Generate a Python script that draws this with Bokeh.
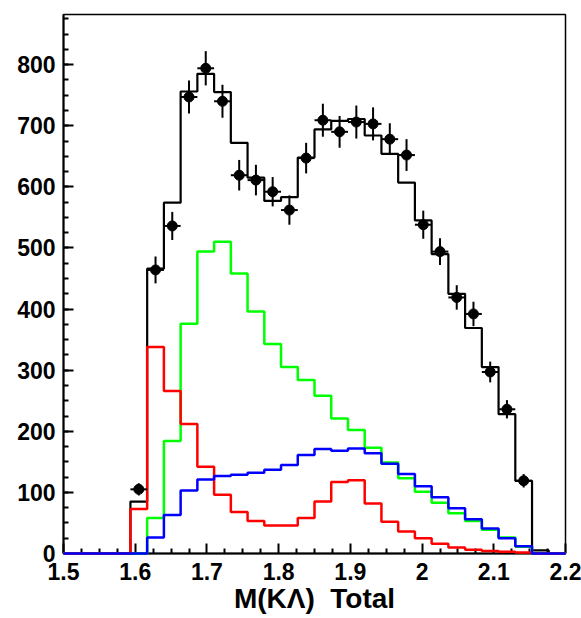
import numpy as np
from bokeh.plotting import figure
from bokeh.models import Range1d, FixedTicker, SingleIntervalTicker, ColumnDataSource
from bokeh.embed import file_html
from bokeh.resources import INLINE

# ---- data (30 bins between 1.5 and 2.2) ----
bin_low = 1.5
bin_high = 2.2
n_bins = 30

total_fit = [0, 0, 0, 0, 85, 466, 574, 756, 785, 755, 672, 615, 577, 583, 648,
             694, 708, 711, 684, 654, 607, 545, 490, 425, 369, 305, 228, 119, 5, 0]
green_comp = [0, 0, 0, 0, 0, 58, 184, 376, 494, 510, 458, 396, 343, 305, 284,
              258, 221, 202, 173, 149, 123, 101, 83, 66, 53, 39, 26, 11, 0, 0]
red_comp = [0, 0, 0, 0, 73, 338, 266, 212, 142, 96, 68, 53, 46, 46, 58,
            85, 117, 120, 82, 52, 36, 25, 16, 10, 6, 4, 3, 1.5, 0, 0]
blue_comp = [0, 0, 0, 0, 0, 26, 63, 103, 121, 127, 129, 132, 137, 145, 161,
             171, 168, 172, 164, 147, 130, 110, 92, 74, 56, 41, 25, 12, 0, 0]

data_counts = [0, 0, 0, 0, 105, 464, 536, 747, 794, 740, 619, 611, 592, 562, 647,
               709, 690, 706, 703, 678, 652, 538, 494, 419, 392, 297, 236, 119, 0, 0]
data_errors = [0, 0, 0, 0, 10, 22, 23, 27, 28, 27, 25, 25, 24, 24, 25,
               27, 26, 27, 27, 26, 26, 23, 22, 20, 20, 17, 15, 11, 0, 0]

x_tick_values = [1.5, 1.6, 1.7, 1.8, 1.9, 2.0, 2.1, 2.2]
x_tick_labels = ["1.5", "1.6", "1.7", "1.8", "1.9", "2", "2.1", "2.2"]
y_tick_interval = 100
x_title = "M(K\u039b)\u00a0\u00a0Total"

# ---- figure ----
FONT = "Liberation Sans"
p = figure(width=581, height=618, x_range=Range1d(bin_low, bin_high), y_range=Range1d(0, 882),
           output_backend="svg", toolbar_location=None,
           min_border_left=63, min_border_right=16, min_border_top=14, min_border_bottom=65)
p.grid.visible = False
p.background_fill_color = "white"
p.border_fill_color = "white"
p.outline_line_color = "black"
p.outline_line_width = 1.5

edges = np.linspace(bin_low, bin_high, n_bins + 1)
centers = 0.5 * (edges[:-1] + edges[1:])
half_w = 0.5 * (edges[1] - edges[0])


def hist(vals, color, width):
    y = list(vals) + [vals[-1]]
    r = p.step(x=edges, y=y, mode="after", line_color=color, line_width=width)
    r.level = "overlay"
    return r


hist(total_fit, "black", 2.2)
hist(green_comp, "#00ff00", 2.5)
hist(red_comp, "#ff0000", 2.5)
hist(blue_comp, "#0000ff", 2.5)

# data points
mask = [c > 0 for c in data_counts]
xc = [c for c, m in zip(centers, mask) if m]
yc = [v for v, m in zip(data_counts, mask) if m]
ec = [e for e, m in zip(data_errors, mask) if m]
src = ColumnDataSource(dict(x=xc, y=yc,
                            ylo=[v - e for v, e in zip(yc, ec)],
                            yhi=[v + e for v, e in zip(yc, ec)],
                            xlo=[x - half_w for x in xc],
                            xhi=[x + half_w for x in xc]))
r1 = p.segment(x0="x", y0="ylo", x1="x", y1="yhi", source=src, line_color="black", line_width=2)
r2 = p.segment(x0="xlo", y0="y", x1="xhi", y1="y", source=src, line_color="black", line_width=2)
r3 = p.scatter(x="x", y="y", source=src, size=10, marker="circle", fill_color="black", line_color="black")
for r in (r1, r2, r3):
    r.level = "overlay"

# ---- axes ----
minor_x = [t for t in np.round(np.arange(bin_low, bin_high + 1e-9, 0.025), 4)
           if min(abs(t - v) for v in x_tick_values) > 1e-6]
xa = p.xaxis[0]
xa.ticker = FixedTicker(ticks=x_tick_values, minor_ticks=minor_x)
xa.major_label_overrides = {v: s for v, s in zip(x_tick_values, x_tick_labels)}
ya = p.yaxis[0]
ya.ticker = SingleIntervalTicker(interval=y_tick_interval, num_minor_ticks=4)

for ax in (xa, ya):
    ax.axis_line_color = "black"
    ax.axis_line_width = 2
    ax.major_tick_in = 10
    ax.major_tick_out = 0
    ax.minor_tick_in = 5
    ax.minor_tick_out = 0
    ax.major_tick_line_width = 2
    ax.minor_tick_line_width = 2
    ax.major_tick_line_color = "black"
    ax.minor_tick_line_color = "black"
    ax.major_label_text_font = FONT
    ax.major_label_text_font_style = "bold"
    ax.major_label_text_font_size = "23px"
    ax.major_label_text_color = "black"

xa.major_label_standoff = 9
ya.major_label_standoff = 8
xa.axis_label = x_title
xa.axis_label_text_font = FONT
xa.axis_label_text_font_style = "bold"
xa.axis_label_text_font_size = "28px"
xa.axis_label_text_color = "black"
xa.axis_label_standoff = 0

html = file_html(p, INLINE)
open("out.html", "w").write(html)
